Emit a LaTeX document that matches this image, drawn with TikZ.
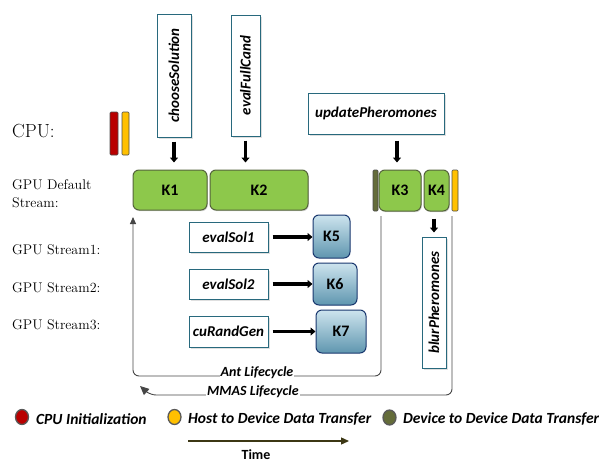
\documentclass[tikz,border=0pt]{standalone}
\usepackage{fontspec}
\usepackage{graphicx}
\setsansfont{Carlito}
\usetikzlibrary{arrows.meta,shadows,shapes.geometric}
\definecolor{kgreen}{RGB}{141,200,75}
\definecolor{kgreenb}{RGB}{85,100,60}
\definecolor{tealb}{RGB}{40,105,125}
\definecolor{kbluet}{RGB}{205,228,238}
\definecolor{kblueb}{RGB}{95,150,175}
\definecolor{kblueborder}{RGB}{25,55,110}
\definecolor{cpured}{RGB}{185,0,0}
\definecolor{hdyellow}{RGB}{255,192,0}
\definecolor{ddolive}{RGB}{100,108,58}
\definecolor{lifeline}{RGB}{70,70,70}
\definecolor{timecol}{RGB}{60,55,20}
\begin{document}
\begin{tikzpicture}[x=1pt,y=-1pt,
  lab/.style={font=\fontsize{14}{18}\selectfont, anchor=west, align=left, inner sep=0pt},
  fnbox/.style={draw=tealb, line width=1pt, fill=white, drop shadow={shadow xshift=1.5pt,shadow yshift=-1.5pt,fill=gray!50}, inner sep=0pt, font=\sffamily\bfseries\itshape\fontsize{15}{16}\selectfont},
  kgr/.style={draw=kgreenb, line width=1pt, fill=kgreen, rounded corners=6pt, inner sep=0pt, drop shadow={shadow xshift=0.8pt,shadow yshift=-1.2pt,fill=gray!60}, font=\sffamily\bfseries\fontsize{16}{16}\selectfont},
  kbl/.style={draw=kblueborder, line width=1pt, top color=kbluet, bottom color=kblueb, rounded corners=6pt, inner sep=0pt, font=\sffamily\bfseries\fontsize{16}{16}\selectfont},
  bar/.style={draw=black!70, line width=0.6pt, inner sep=0pt, rounded corners=1pt},
  thk/.style={line width=3.6pt, -{Triangle[length=5pt,width=8pt]}},
  life/.style={draw=lifeline, line width=0.9pt, rounded corners=6pt},
  lifelab/.style={font=\sffamily\bfseries\itshape\fontsize{14}{14}\selectfont, fill=white, inner sep=1pt, anchor=base},
  legdot/.style={ellipse, draw=gray!70!black, line width=1.3pt, minimum width=13pt, minimum height=15pt, inner sep=0pt},
  legtxt/.style={anchor=west, font=\sffamily\bfseries\itshape\fontsize{15.5}{16}\selectfont, inner sep=0pt}
]
\useasboundingbox (0,0) rectangle (599,463);

% row labels
\node[lab, font=\fontsize{19}{20}\selectfont] (cpu) at (12,131) {CPU:};
\node[lab] (gds) at (12,194) {GPU Default\\Stream:};
\node[lab] (gs1) at (12,250) {GPU Stream1:};
\node[lab] (gs2) at (12,288) {GPU Stream2:};
\node[lab] (gs3) at (12,325) {GPU Stream3:};

% CPU bars
\node[bar, fill=cpured, minimum width=8pt, minimum height=43pt] (redbar) at (114,133.5) {};
\node[bar, fill=hdyellow, minimum width=7pt, minimum height=43pt] (ybar) at (125.5,133.5) {};

% function boxes
\node[fnbox, minimum width=34pt, minimum height=123pt] (choose) at (174,75.5) {\rotatebox{90}{chooseSolution}};
\node[fnbox, minimum width=29pt, minimum height=121pt] (evalfc) at (245.5,75.5) {\rotatebox{90}{evalFullCand}};
\node[fnbox, minimum width=136pt, minimum height=41pt] (upd) at (376,113.5) {updatePheromones};
\node[fnbox, minimum width=79pt, minimum height=30pt] (es1) at (228.5,237) {evalSol1};
\node[fnbox, minimum width=79pt, minimum height=30pt] (es2) at (228.5,284) {evalSol2};
\node[fnbox, minimum width=79pt, minimum height=31pt] (cur) at (228.5,331.5) {cuRandGen};
\node[fnbox, minimum width=24pt, minimum height=131pt] (blur) at (434,302.5) {\rotatebox{90}{blurPheromones}};

% kernels default stream
\node[kgr, minimum width=74pt, minimum height=40pt] (k1) at (170,190) {K1};
\node[kgr, minimum width=98pt, minimum height=40pt] (k2) at (259,190) {K2};
\node[bar, fill=ddolive, minimum width=5pt, minimum height=41pt] (obar) at (375.5,190.5) {};
\node[kgr, minimum width=42pt, minimum height=41pt] (k3) at (400,190.5) {K3};
\node[kgr, minimum width=25pt, minimum height=41pt] (k4) at (436.5,190.5) {K4};
\node[bar, fill=hdyellow, minimum width=6pt, minimum height=41pt] (ybar2) at (455,190.5) {};

% kernels streams
\node[kbl, minimum width=37pt, minimum height=43pt] (k5) at (331.5,236.5) {K5};
\node[kbl, minimum width=44pt, minimum height=42pt] (k6) at (335,284) {K6};
\node[kbl, minimum width=50pt, minimum height=43pt] (k7) at (341,331.5) {K7};

% launch arrows
\draw[thk] ([yshift=-4pt]choose.south) -- ([yshift=7pt]choose.south |- k1.north);
\draw[thk] ([yshift=-4pt]evalfc.south) -- ([yshift=7pt]evalfc.south |- k2.north);
\draw[thk] ([xshift=-3pt,yshift=-6pt]k3.north |- upd.south) -- ([xshift=-3pt,yshift=7pt]k3.north);
\draw[thk] ([yshift=-7pt]k4.south -| blur.north) -- ([yshift=4pt]blur.north);
\draw[thk] ([xshift=4pt]es1.east) -- (es1.east -| k5.west);
\draw[thk] ([xshift=4pt]es2.east) -- (es2.east -| k6.west);
\draw[thk] ([xshift=4pt]cur.east) -- (cur.east -| k7.west);

% lifecycles
\coordinate (antS) at (381,216);
\coordinate (antC1) at (381,376);
\coordinate (antC2) at (133,376);
\coordinate (antE) at (133,217);
\draw[life, -{Triangle[length=7pt,width=6pt]}, lifeline] (antS) -- (antC1) -- (antC2) -- (antE);
\node[lifelab] (antlab) at (257,376) {Ant Lifecycle};

\coordinate (mmS) at (452,216);
\coordinate (mmC1) at (452,395);
\coordinate (mmC2) at (150,395);
\coordinate (mmE) at (140,386);
\draw[life, -{Triangle[length=9pt,width=8pt]}, lifeline] (mmS) -- (mmC1) -- (mmC2) [sharp corners] -- (mmE);
\node[lifelab] (mmlab) at (253,395) {MMAS Lifecycle};

% legend
\node[legdot, fill=cpured] (lg1) at (22,417) {};
\node[legtxt] (lt1) at (36,419) {CPU Initialization};
\node[legdot, fill=hdyellow] (lg2) at (174.5,417) {};
\node[legtxt] (lt2) at (188,419) {Host to Device Data Transfer};
\node[legdot, fill=ddolive] (lg3) at (389.5,417.5) {};
\node[legtxt] (lt3) at (403,419) {Device to Device Data Transfer};

% time
\coordinate (tS) at (188,441);
\coordinate (tE) at (349,441);
\draw[timecol, line width=1.3pt, -{Triangle[length=8pt,width=7pt]}] (tS) -- (tE);
\node[font=\sffamily\bfseries\fontsize{14}{14}\selectfont, inner sep=0pt] (time) at (256,454.5) {Time};
\end{tikzpicture}
\end{document}
